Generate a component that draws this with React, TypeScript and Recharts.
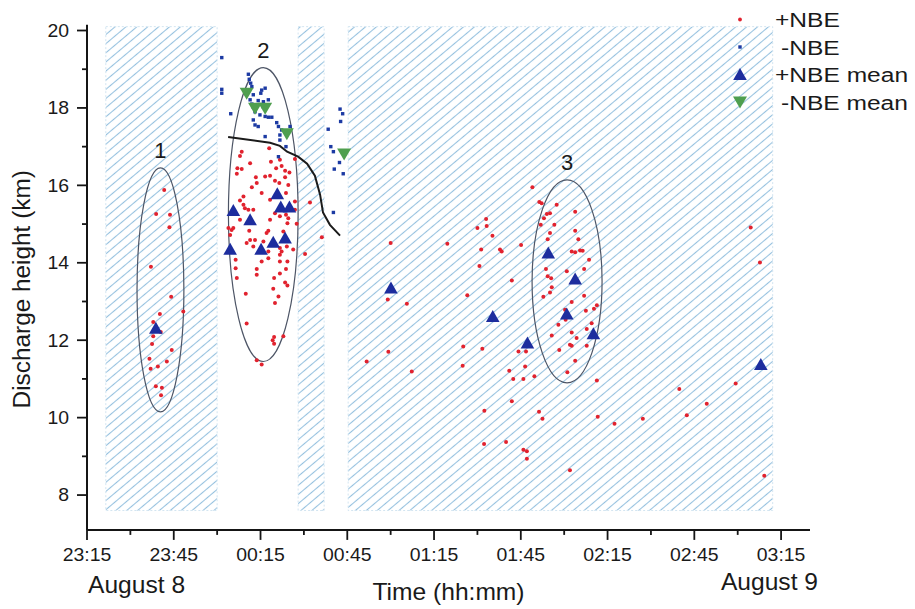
import React from 'react';
import { ScatterChart, Scatter, XAxis, YAxis, ReferenceArea } from 'recharts';

const FONT = '"Liberation Sans", Arial, Helvetica, sans-serif';

// x values are minutes after 23:15 (August 8)
const xTicks = [0, 15, 30, 45, 60, 75, 90, 105, 120, 135, 150, 165, 180, 195, 210, 225, 240];
const xTickLabels = ['23:15', '23:45', '00:15', '00:45', '01:15', '01:45', '02:15', '02:45', '03:15'];
const yTicks = [8, 9, 10, 11, 12, 13, 14, 15, 16, 17, 18, 19, 20];
const xDomain: [number, number] = [0, 250];
const yDomain: [number, number] = [7.1, 20.15];

// hatched time periods (minutes after 23:15) and their height span (km)
const hatchedPeriods: [number, number][] = [[6.5, 45], [73, 82], [90.3, 237.1]];
const hatchHeight: [number, number] = [7.6, 20.1];

// ellipses marking clusters
const clusterLabels = ['1', '2', '3'];
const clusterTime: [number, number][] = [[17.3, 33.5], [48.9, 73.0], [153.9, 178.1]];
const clusterHeight: [number, number][] = [[10.15, 16.45], [11.45, 19.04], [10.9, 16.14]];

// +NBE events [time, height]
const posNbe: [number, number][] = [
  [26.7, 15.88], [23.9, 15.26], [28.7, 15.24], [28.5, 14.92], [22.1, 13.9], [29.1, 13.12], [33.3, 12.74], [25.2, 12.68],
  [22.9, 12.47], [25.5, 12.21], [22.9, 12.1], [22.5, 11.9], [29.3, 11.75], [21.6, 11.52], [27.6, 11.45], [24.5, 11.32],
  [22.0, 11.26], [23.8, 10.81], [25.9, 10.77], [25.6, 10.58],
  [52.9, 16.76], [53.5, 16.87], [63.6, 16.61], [66.7, 16.66], [67.3, 16.5], [65.4, 16.44], [68.5, 16.38], [70.0, 16.33],
  [56.4, 16.57], [52.0, 16.44], [53.5, 16.42], [51.8, 16.3], [61.6, 16.23], [63.3, 16.25], [68.5, 16.21], [65.0, 16.12],
  [58.4, 16.21], [58.7, 16.06], [69.6, 16.01], [66.5, 16.06], [57.0, 15.95], [60.4, 15.8], [68.8, 15.8], [54.1, 15.71],
  [52.9, 15.61], [63.3, 15.63], [71.9, 15.58], [54.1, 15.5], [54.6, 15.41], [55.8, 15.37], [57.5, 15.37], [71.9, 15.37],
  [68.8, 15.24], [66.7, 15.2], [69.6, 15.15], [63.3, 15.11], [52.9, 15.11], [65.0, 15.28], [77.1, 15.56], [69.3, 15.02],
  [72.5, 15.01], [50.6, 14.9], [48.9, 14.9], [50.0, 14.85], [56.1, 14.83], [62.7, 14.83], [62.1, 14.77], [67.9, 14.81],
  [49.5, 14.72], [56.4, 14.59], [58.1, 14.59], [61.0, 14.55], [55.2, 14.51], [57.5, 14.42], [69.1, 14.42], [66.7, 14.38],
  [71.3, 14.34], [62.7, 14.29], [67.3, 14.29], [66.7, 14.21], [75.4, 14.23], [81.2, 14.66], [51.4, 14.08], [60.4, 14.03],
  [62.7, 14.12], [66.7, 14.03], [69.3, 14.03], [58.7, 13.84], [51.4, 13.86], [68.8, 13.84], [58.7, 13.69], [66.7, 13.72],
  [51.8, 13.61], [64.7, 13.61], [68.5, 13.49], [69.3, 13.41], [64.4, 13.33], [66.2, 13.13], [54.9, 13.2], [65.0, 12.96],
  [55.2, 12.43], [64.7, 12.08], [64.2, 12.0], [67.9, 12.1], [64.7, 11.91], [58.7, 11.48], [60.4, 11.37], [71.9, 16.68],
  [63.0, 16.96],
  [105.0, 14.51], [124.6, 14.49], [104.0, 13.05], [110.6, 12.94], [104.2, 11.7], [96.7, 11.45], [112.3, 11.19],
  [154.0, 15.95], [138.0, 15.13], [135.0, 14.9], [138.2, 14.95], [140.2, 14.7], [150.1, 14.46], [136.3, 14.34],
  [142.8, 14.34], [143.4, 14.29], [135.7, 13.92], [146.9, 13.54], [131.5, 13.16], [130.1, 11.84], [136.7, 11.78],
  [129.9, 11.34], [146.0, 11.21], [147.4, 11.0], [150.9, 11.0], [154.7, 11.07], [149.2, 11.71], [151.8, 11.71],
  [151.5, 11.32],
  [156.4, 15.57], [157.2, 15.54], [162.4, 15.5], [168.8, 15.32], [159.0, 15.26], [160.1, 15.28], [158.0, 15.15],
  [161.6, 14.98], [156.9, 14.98], [168.8, 14.83], [160.1, 14.77], [159.3, 14.61], [169.9, 14.61], [167.6, 14.29],
  [168.8, 14.27], [170.5, 14.32], [171.4, 14.31], [173.6, 14.08], [158.7, 13.84], [165.9, 13.78], [171.9, 13.84],
  [159.3, 13.65], [160.5, 13.6], [160.7, 13.37], [160.1, 13.23], [157.8, 13.12], [171.9, 13.15], [167.6, 12.99],
  [165.3, 12.79], [165.5, 12.53], [163.0, 12.4], [172.5, 12.76], [176.3, 12.9], [175.3, 12.81], [174.5, 12.44],
  [172.8, 12.29], [167.6, 12.2], [169.3, 12.06], [160.7, 12.12], [167.0, 11.88], [167.6, 11.86], [172.8, 11.86],
  [163.3, 11.75], [168.8, 11.47], [166.1, 11.17], [176.3, 10.96],
  [229.5, 14.91], [232.7, 14.01], [224.3, 10.88], [204.8, 10.74], [214.3, 10.36], [207.4, 10.06], [176.6, 10.02],
  [182.4, 9.84], [192.2, 9.97], [234.2, 8.5],
  [146.9, 10.42], [137.4, 10.18], [156.3, 10.15], [157.5, 9.97], [137.3, 9.32], [144.9, 9.37], [150.9, 9.17],
  [152.1, 9.13], [152.1, 8.94], [167.0, 8.64],
];

// -NBE events [time, height]
const negNbe: [number, number][] = [
  [46.6, 19.3], [46.6, 18.48], [46.6, 18.38], [49.7, 17.85], [55.8, 18.87], [56.1, 18.74], [56.6, 18.64], [57.0, 18.55],
  [60.4, 18.46], [61.6, 18.51], [60.1, 18.38], [57.5, 18.34], [56.4, 18.21], [59.2, 18.19], [61.0, 18.16], [62.7, 18.21],
  [57.0, 18.1], [57.5, 18.02], [61.0, 18.02], [58.1, 17.9], [59.8, 17.82], [61.6, 17.78], [62.7, 17.76], [63.9, 17.76],
  [57.5, 17.69], [58.1, 17.56], [59.2, 17.52], [65.6, 17.62], [66.2, 17.52], [67.3, 17.43], [70.2, 17.52], [61.6, 17.26],
  [66.7, 17.3], [66.7, 17.17], [68.8, 17.0], [66.2, 16.74], [83.4, 17.45], [84.3, 17.0], [85.2, 16.87], [87.3, 16.59],
  [85.5, 16.42], [88.6, 16.3], [87.5, 17.97], [88.4, 17.85], [87.7, 17.65], [85.2, 15.3],
];

// +NBE mean and -NBE mean [time, height]
const posMean: [number, number][] = [
  [23.8, 12.31], [50.6, 15.35], [56.4, 15.11], [65.8, 15.78], [67.0, 15.44], [70.0, 15.44], [49.5, 14.35], [60.2, 14.35],
  [64.4, 14.53], [68.5, 14.64], [105.1, 13.35], [140.3, 12.61], [152.3, 11.93], [159.5, 14.25], [168.8, 13.58],
  [165.9, 12.68], [175.1, 12.17], [233.0, 11.37],
];
const negMean: [number, number][] = [[55.2, 18.38], [58.1, 17.99], [61.6, 17.99], [69.1, 17.33], [88.9, 16.81]];

// boundary curve between +NBE and -NBE
const boundary: [number, number][] = [
  [48.8, 17.25], [63.3, 17.1], [66.7, 17.02], [69.2, 16.87], [73.0, 16.74], [76.1, 16.56], [78.8, 16.25],
  [80.6, 15.76], [81.6, 15.3], [84.0, 14.98], [87.5, 14.7],
];

const legendItems = ['+NBE', '-NBE', '+NBE mean', '-NBE mean'];

const toPts = (a: [number, number][]) => a.map(([t, h]) => ({ t, h }));

// layout
const W = 915;
const H = 609;
const MARGIN = { top: 24.7, right: 105, bottom: 29.1, left: 27 };
const YAXIS_W = 60;
const XAXIS_H = 50;
const PLOT_LEFT = MARGIN.left + YAXIS_W;
const PLOT_RIGHT = W - MARGIN.right;
const PLOT_BOTTOM = H - MARGIN.bottom - XAXIS_H;
const PLOT_TOP = MARGIN.top;

const RED = '#e1222e';
const BLUE_DOT = '#1c3aa3';
const BLUE_TRI = '#1d2d9e';
const GREEN = '#4f9f4f';
const INK = '#151515';

const RedDot = (p: any) => <circle cx={p.cx} cy={p.cy} r={2} fill={RED} />;
const BlueDot = (p: any) => <rect x={p.cx - 1.7} y={p.cy - 1.7} width={3.4} height={3.4} fill={BLUE_DOT} />;
const UpTri = (p: any) => (
  <polygon points={`${p.cx},${p.cy - 6.5} ${p.cx - 6.8},${p.cy + 5.5} ${p.cx + 6.8},${p.cy + 5.5}`} fill={BLUE_TRI} />
);
const DownTri = (p: any) => (
  <polygon points={`${p.cx},${p.cy + 6.5} ${p.cx - 7},${p.cy - 5.5} ${p.cx + 7},${p.cy - 5.5}`} fill={GREEN} />
);
const NoDot = () => <g />;

const XTick = (props: any) => {
  const { x, y, payload } = props;
  const v = payload.value as number;
  const major = v % 30 === 0;
  return (
    <g>
      <line x1={x} y1={y} x2={x} y2={y + (major ? 10 : 5)} stroke={INK} strokeWidth={1.8} />
      {major && (
        <text
          transform={`translate(${x},${y + 31.5}) scale(1.08,1)`}
          textAnchor="middle"
          fontSize={18}
          fontFamily={FONT}
          fill="#1a1a1a"
        >
          {xTickLabels[v / 30]}
        </text>
      )}
    </g>
  );
};

const YTick = (props: any) => {
  const { x, y, payload } = props;
  const v = payload.value as number;
  const major = v % 2 === 0;
  return (
    <g>
      <line x1={x - (major ? 10 : 5)} y1={y} x2={x} y2={y} stroke={INK} strokeWidth={1.8} />
      {major && (
        <text
          transform={`translate(${x - 18},${y + 6.3}) scale(1.08,1)`}
          textAnchor="end"
          fontSize={18}
          fontFamily={FONT}
          fill="#1a1a1a"
        >
          {v}
        </text>
      )}
    </g>
  );
};

const XTitles = () => (
  <g fontFamily={FONT} fill="#1a1a1a" fontSize={23}>
    <text transform={`translate(${(PLOT_LEFT + PLOT_RIGHT) / 2},${PLOT_BOTTOM + 70}) scale(1.07,1)`} textAnchor="middle">
      Time (hh:mm)
    </text>
    <text transform={`translate(${PLOT_LEFT + 1},${PLOT_BOTTOM + 63}) scale(1.07,1)`} textAnchor="start">
      August 8
    </text>
    <text transform={`translate(${PLOT_RIGHT + 8},${PLOT_BOTTOM + 60}) scale(1.07,1)`} textAnchor="end">
      August 9
    </text>
  </g>
);

const YTitle = () => (
  <text
    transform={`translate(${MARGIN.left + 3},${(PLOT_TOP + PLOT_BOTTOM) / 2 + 12}) rotate(-90) scale(1.06,1)`}
    textAnchor="middle"
    fontFamily={FONT}
    fontSize={23}
    fill="#1a1a1a"
  >
    Discharge height (km)
  </text>
);

const makeEllipse = (label: string) => (p: any) => {
  const cx = p.x + p.width / 2;
  const cy = p.y + p.height / 2;
  return (
    <g>
      <ellipse cx={cx} cy={cy} rx={Math.abs(p.width) / 2} ry={Math.abs(p.height) / 2} fill="none" stroke="#4d5566" strokeWidth={1.2} />
      <text x={cx} y={p.y - 10} textAnchor="middle" fontFamily={FONT} fontSize={22} fill="#1a1a1a">
        {label}
      </text>
    </g>
  );
};

const Legend = () => {
  const rowY = [19.5, 47, 74.5, 102];
  const symbols = [
    <circle key="a" cx={15} cy={rowY[0]} r={1.9} fill={RED} />,
    <rect key="b" x={13.3} y={rowY[1] - 1.7} width={3.4} height={3.4} fill={BLUE_DOT} />,
    <UpTri key="c" cx={15} cy={rowY[2]} />,
    <DownTri key="d" cx={15} cy={rowY[3]} />,
  ];
  return (
    <svg width={190} height={120} style={{ position: 'absolute', left: 725, top: 0 }}>
      {symbols}
      {legendItems.map((s, i) => (
        <text
          key={s}
          transform={`translate(${s.startsWith('+') ? 50 : 56},${rowY[i] + 7.5}) scale(1.17,1)`}
          fontFamily={FONT}
          fontSize={21}
          fill="#1a1a1a"
        >
          {s}
        </text>
      ))}
    </svg>
  );
};

export default function App() {
  return (
    <div style={{ position: 'absolute', left: 0, top: 0, width: W, height: H, background: '#fff' }}>
      <ScatterChart width={W} height={H} margin={MARGIN}>
        <defs>
          <pattern id="hatch" patternUnits="userSpaceOnUse" width={7} height={7} patternTransform="rotate(50)">
            <line x1={3.5} y1={0} x2={3.5} y2={7} stroke="#96c1df" strokeWidth={1.1} />
          </pattern>
        </defs>
        <XAxis
          dataKey="t"
          type="number"
          domain={xDomain}
          ticks={xTicks}
          interval={0}
          allowDataOverflow
          tickLine={false}
          tickSize={0}
          tickMargin={0}
          axisLine={{ stroke: INK, strokeWidth: 2 }}
          tick={<XTick />}
          height={XAXIS_H}
          label={<XTitles />}
        />
        <YAxis
          dataKey="h"
          type="number"
          domain={yDomain}
          ticks={yTicks}
          interval={0}
          allowDataOverflow
          tickLine={false}
          tickSize={0}
          tickMargin={0}
          axisLine={{ stroke: INK, strokeWidth: 2 }}
          tick={<YTick />}
          width={YAXIS_W}
          label={<YTitle />}
        />
        {hatchedPeriods.map(([a, b], i) => (
          <ReferenceArea
            key={`h${i}`}
            x1={a}
            x2={b}
            y1={hatchHeight[0]}
            y2={hatchHeight[1]}
            fill="url(#hatch)"
            fillOpacity={1}
            stroke="#d3e5f1"
            strokeWidth={1}
            strokeDasharray="2 2"
          />
        ))}
        {clusterLabels.map((lab, i) => (
          <ReferenceArea
            key={`c${i}`}
            x1={clusterTime[i][0]}
            x2={clusterTime[i][1]}
            y1={clusterHeight[i][0]}
            y2={clusterHeight[i][1]}
            shape={makeEllipse(lab)}
          />
        ))}
        <Scatter name="+NBE" data={toPts(posNbe)} shape={RedDot} isAnimationActive={false} />
        <Scatter name="-NBE" data={toPts(negNbe)} shape={BlueDot} isAnimationActive={false} />
        <Scatter
          name="boundary"
          data={toPts(boundary)}
          shape={NoDot}
          line={{ stroke: '#1b1b1b', strokeWidth: 2 }}
          lineJointType="linear"
          isAnimationActive={false}
        />
        <Scatter name="+NBE mean" data={toPts(posMean)} shape={UpTri} isAnimationActive={false} />
        <Scatter name="-NBE mean" data={toPts(negMean)} shape={DownTri} isAnimationActive={false} />
      </ScatterChart>
      <Legend />
    </div>
  );
}
